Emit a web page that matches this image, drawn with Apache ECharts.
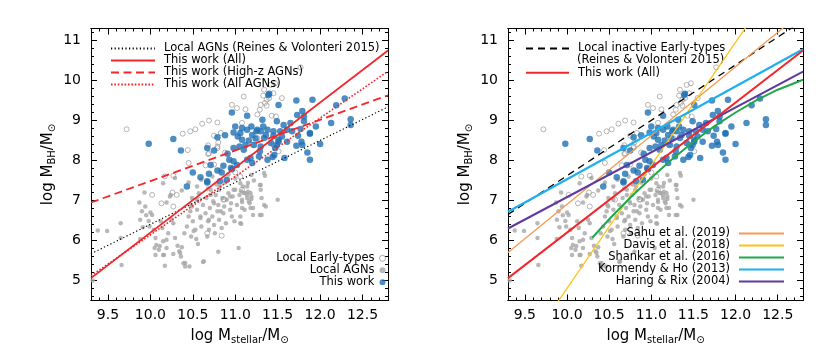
<!DOCTYPE html>
<html><head><meta charset="utf-8">
<script src="https://cdn.jsdelivr.net/npm/echarts@6/dist/echarts.min.js"></script>
<style>html,body{margin:0;padding:0;background:#fff}#c{width:830px;height:360px}</style>
</head><body><div id="c"></div>
<script>
// ---------- axis ticks ----------
const xRange = [9.3, 12.8];
const yRange = [4.5, 11.3];
const xMajorTicks = [9.5, 10.0, 10.5, 11.0, 11.5, 12.0, 12.5];
const xMinorTicks = [9.4,9.5,9.6,9.7,9.8,9.9,10.0,10.1,10.2,10.3,10.4,10.5,10.6,10.7,10.8,10.9,11.0,11.1,11.2,11.3,11.4,11.5,11.6,11.7,11.8,11.9,12.0,12.1,12.2,12.3,12.4,12.5,12.6,12.7];
const yMajorTicks = [5, 6, 7, 8, 9, 10, 11];
const yMinorTicks = [4.6,4.8,5.0,5.2,5.4,5.6,5.8,6.0,6.2,6.4,6.6,6.8,7.0,7.2,7.4,7.6,7.8,8.0,8.2,8.4,8.6,8.8,9.0,9.2,9.4,9.6,9.8,10.0,10.2,10.4,10.6,10.8,11.0,11.2];

// ---------- scatter data ----------
const localEarly = [[9.72,8.78],[10.17,7.60],[10.27,7.62],[10.38,8.67],[10.47,8.73],[10.53,8.78],[10.61,8.92],[10.69,9.00],[10.79,8.95],[10.75,8.62],[10.80,8.45],[10.83,8.69],[10.79,8.31],[10.68,8.38],[10.44,8.26],[10.69,8.18],[10.96,9.39],[11.02,9.31],[10.45,7.94],[10.79,8.35],[11.10,9.60],[11.30,9.39],[11.33,9.62],[11.37,9.37],[11.40,9.56],[11.45,9.68],[11.47,9.93],[11.42,9.89],[11.34,9.77],[11.55,9.56],[11.08,8.94],[11.26,8.56],[11.45,8.39],[11.51,8.23],[11.06,7.60],[10.02,7.14],[10.13,6.93],[10.27,6.85],[10.31,7.14],[10.57,7.02],[10.67,6.18],[10.84,6.12],[10.86,7.02],[11.08,7.27],[11.35,9.44],[11.43,9.12],[11.48,9.10],[11.37,9.52],[11.77,10.33],[10.26,7.20],[10.68,8.16],[10.65,7.88],[10.87,7.03],[11.12,9.28],[10.88,8.20],[11.20,8.40],[11.00,7.70],[10.75,7.90],[11.26,9.15],[11.29,9.27]];
const localAgn = [[9.38,6.25],[9.49,6.24],[9.65,6.43],[9.65,6.06],[9.66,5.39],[9.87,6.95],[9.88,6.52],[9.90,6.73],[9.94,6.85],[9.95,6.63],[9.98,6.49],[9.99,6.35],[10.02,6.64],[10.04,6.27],[10.06,6.06],[10.07,5.89],[10.10,5.77],[10.12,6.48],[10.14,6.31],[10.15,5.64],[10.17,5.37],[10.19,5.81],[10.19,6.02],[10.21,6.18],[10.24,7.14],[10.25,6.52],[10.27,6.43],[10.29,6.06],[10.32,5.87],[10.34,5.73],[10.36,5.60],[10.39,5.43],[10.41,5.35],[10.40,6.18],[10.43,6.35],[10.45,6.60],[10.47,6.73],[10.48,6.89],[10.49,7.06],[10.50,6.48],[10.53,6.27],[10.55,6.77],[10.57,7.18],[10.59,6.56],[10.60,6.35],[10.62,6.89],[10.63,5.48],[10.65,6.68],[10.66,7.06],[10.68,6.48],[10.69,6.27],[10.70,6.81],[10.71,7.27],[10.73,6.60],[10.74,6.98],[10.75,6.39],[10.76,6.18],[10.77,7.14],[10.79,6.73],[10.80,6.89],[10.81,6.52],[10.82,7.35],[10.84,6.31],[10.85,7.06],[10.86,6.68],[10.87,6.85],[10.89,6.43],[10.90,7.02],[10.92,7.18],[10.94,6.77],[10.95,6.93],[10.96,6.60],[10.97,7.10],[10.99,6.48],[11.00,7.27],[11.02,6.89],[11.04,5.81],[11.05,7.14],[11.06,6.43],[11.08,7.02],[11.09,7.35],[11.11,6.77],[11.12,7.18],[11.14,7.06],[11.15,7.22],[11.17,6.93],[11.19,7.10],[11.21,6.81],[11.30,7.39],[11.31,6.64],[11.34,6.89],[11.50,7.02],[9.91,6.33],[9.88,6.04],[10.05,5.81],[10.11,5.86],[10.06,5.64],[10.15,5.98],[10.16,5.64],[10.27,5.66],[10.35,5.69],[10.37,5.83],[10.41,5.44],[10.46,5.35],[10.48,6.10],[10.51,6.24],[10.54,6.04],[10.56,5.91],[10.62,5.46],[10.67,6.10],[10.80,5.72],[11.19,7.64],[11.34,7.69],[11.35,7.62],[11.29,7.39],[11.15,7.44],[11.07,7.23],[11.10,7.19],[11.14,7.14],[11.18,7.19],[11.16,6.98],[11.19,7.04],[11.08,6.96],[11.31,7.06],[11.36,6.85],[11.08,6.81],[11.18,6.81],[11.21,6.64],[11.29,6.64],[11.06,6.60],[11.07,6.42],[10.49,6.85],[10.55,7.02],[10.59,6.60],[10.69,6.52],[10.71,7.14],[10.75,6.93],[10.81,7.27],[10.83,6.73],[10.00,6.70],[10.19,6.95],[10.23,7.10],[10.73,7.60],[10.82,7.77],[10.78,7.40],[10.98,7.27],[11.14,7.35],[11.30,7.27],[11.06,7.43],[10.94,7.10],[10.29,7.56],[10.15,7.43],[9.93,7.20],[10.37,7.25],[10.60,7.52],[10.88,7.45],[11.00,7.55],[10.45,7.45],[10.55,7.35],[10.68,7.30],[11.22,7.50],[10.92,7.65],[9.32,5.00]];
const thisWork = [[9.98,8.42],[10.27,8.54],[10.36,8.25],[10.43,7.35],[10.67,7.45],[10.50,7.70],[10.59,7.58],[10.67,7.48],[10.69,7.67],[10.71,7.89],[10.79,7.75],[10.84,7.70],[10.86,7.87],[10.91,8.17],[10.93,8.02],[10.98,7.98],[11.02,7.89],[10.96,7.78],[10.67,8.31],[10.79,8.58],[10.98,8.31],[10.96,9.20],[11.00,8.85],[11.06,8.69],[11.14,9.12],[11.14,8.77],[11.08,8.52],[11.12,8.39],[11.20,8.64],[11.22,8.39],[11.26,8.77],[11.32,9.02],[11.34,8.56],[11.38,8.77],[11.40,9.67],[11.42,8.44],[11.45,8.62],[11.49,8.98],[11.51,9.39],[11.53,8.73],[11.49,8.39],[11.57,8.89],[11.61,8.77],[11.65,8.94],[11.72,9.50],[11.74,8.62],[11.77,8.79],[11.79,9.24],[11.81,9.10],[11.78,8.47],[11.72,8.37],[11.85,8.20],[11.88,8.02],[11.91,9.52],[11.88,8.67],[11.95,8.85],[12.00,8.41],[12.13,8.94],[12.19,9.38],[12.29,9.55],[12.36,9.03],[12.36,8.89],[11.58,8.06],[11.51,8.52],[11.14,8.02],[11.20,7.94],[11.30,8.35],[10.90,7.52],[10.82,7.48],[10.95,7.81],[11.28,8.10],[11.30,8.73],[10.98,8.70],[11.08,8.81],[11.38,8.02],[11.44,8.09],[11.46,8.14],[11.18,8.06],[11.29,8.23],[11.39,9.64],[11.73,9.14],[11.81,8.98],[11.88,8.69],[11.79,8.39],[11.67,8.73],[11.45,8.73],[11.25,8.73],[11.19,8.85],[11.33,8.85],[11.51,8.47],[11.61,8.47],[11.47,8.31],[10.88,8.63],[11.03,8.60],[11.10,8.27],[11.16,8.50],[10.75,8.25],[11.05,8.35],[11.24,8.55],[11.36,8.64],[11.55,8.60]];

// ---------- relations ----------
const lineX = [9.3, 12.8];
const rvAgnY = [5.67, 9.34];
const allY = [5.06, 10.75];
const highzY = [6.95, 9.63];
const allAgnY = [5.12, 10.23];
const rvEarlyY = [6.65, 11.50];
const sahuY = [5.70, 11.72];
const davisX = [9.7, 12.3];
const davisY = [3.88, 11.88];
const shankarX = [10.3, 10.5, 10.75, 11.0, 11.25, 11.5, 11.75, 12.0, 12.25, 12.5, 12.8];
const shankarY = [6.07, 6.53, 7.07, 7.57, 8.04, 8.47, 8.86, 9.20, 9.51, 9.77, 10.02];
const kormendyY = [6.72, 10.78];
const haringY = [6.30, 10.22];

const FONT = 'DejaVu Sans';
const pts = (xs, ys) => xs.map((x, i) => [x, ys[i]]);

function xAxes(g) {
  const base = (pos, ticks, len, main) => ({
    type: 'value', gridIndex: g, position: pos, min: xRange[0], max: xRange[1],
    axisLine: { show: true, onZero: false, lineStyle: { color: '#000', width: 1 } },
    axisTick: { show: true, inside: true, length: len, customValues: ticks, lineStyle: { color: '#000', width: 1 } },
    axisLabel: main ? { show: true, customValues: xMajorTicks, formatter: v => v.toFixed(1), margin: 8, color: '#000', fontSize: 14, fontFamily: FONT } : { show: false },
    splitLine: { show: false },
    name: main ? '{t|log M}{s|stellar}{t|/M}{s|\u2299}' : '',
    nameLocation: 'middle', nameGap: 27,
    nameTextStyle: { rich: {
      t: { fontSize: 15, fontFamily: FONT, color: '#000', lineHeight: 18 },
      s: { fontSize: 10, fontFamily: FONT, color: '#000', lineHeight: 10, verticalAlign: 'bottom' } } }
  });
  return [base('bottom', xMajorTicks, 6, true), base('bottom', xMinorTicks, 3, false),
          base('top', xMajorTicks, 6, false), base('top', xMinorTicks, 3, false)];
}
function yAxes(g) {
  const base = (pos, ticks, len, main) => ({
    type: 'value', gridIndex: g, position: pos, min: yRange[0], max: yRange[1],
    axisLine: { show: true, onZero: false, lineStyle: { color: '#000', width: 1 } },
    axisTick: { show: true, inside: true, length: len, customValues: ticks, lineStyle: { color: '#000', width: 1 } },
    axisLabel: main ? { show: true, customValues: yMajorTicks, margin: 10, color: '#000', fontSize: 14, fontFamily: FONT } : { show: false },
    splitLine: { show: false },
    name: main ? '{t|log M}{s|BH}{t|/M}{s|\u2299}' : '',
    nameLocation: 'middle', nameGap: 34, nameRotate: 90,
    nameTextStyle: { rich: {
      t: { fontSize: 15, fontFamily: FONT, color: '#000', lineHeight: 18 },
      s: { fontSize: 10, fontFamily: FONT, color: '#000', lineHeight: 10, verticalAlign: 'bottom' } } }
  });
  return [base('left', yMajorTicks, 6, true), base('left', yMinorTicks, 3, false),
          base('right', yMajorTicks, 6, false), base('right', yMinorTicks, 3, false)];
}

function scatters(ax) {
  return [
    { name: 'Local AGNs', type: 'scatter', xAxisIndex: ax, yAxisIndex: ax, data: localAgn, symbol: 'circle', symbolSize: 4.5,
      itemStyle: { color: '#a6a6a6' }, z: 2 },
    { name: 'Local Early-types', type: 'scatter', xAxisIndex: ax, yAxisIndex: ax, data: localEarly, symbol: 'circle', symbolSize: 5,
      itemStyle: { color: 'rgba(255,255,255,0)', borderColor: '#999', borderWidth: 0.9 }, z: 2 },
    { name: 'This work', type: 'scatter', xAxisIndex: ax, yAxisIndex: ax, data: thisWork, symbol: 'circle', symbolSize: 6.5,
      itemStyle: { color: '#1f70b5' }, z: 3 }
  ];
}
function line(name, ax, data, color, width, type) {
  return { name, type: 'line', xAxisIndex: ax, yAxisIndex: ax, data, symbol: 'none', showSymbol: false, clip: true,
    lineStyle: { color, width, type }, itemStyle: { color }, z: 5 };
}

const series = [
  ...scatters(0),
  line('Local AGNs (Reines & Volonteri 2015)', 0, pts(lineX, rvAgnY), '#000', 1.2, [1.2, 2.4]),
  line('This work (All)', 0, pts(lineX, allY), '#f2262b', 1.8, 'solid'),
  line('This work (High-z AGNs)', 0, pts(lineX, highzY), '#f2262b', 1.8, [8, 4.5]),
  line('This work (All AGNs)', 0, pts(lineX, allAgnY), '#f2262b', 1.6, [1.6, 1.8]),
  ...scatters(4),
  line('Local inactive Early-types', 4, pts(lineX, rvEarlyY), '#000', 1.3, [7, 5]),
  line('Sahu et al. (2019)', 4, pts(lineX, sahuY), '#f59a55', 1.3, 'solid'),
  line('Davis et al. (2018)', 4, pts(davisX, davisY), '#fcc419', 1.3, 'solid'),
  line('Shankar et al. (2016)', 4, pts(shankarX, shankarY), '#1ea84a', 2, 'solid'),
  line('Kormendy & Ho (2013)', 4, pts(lineX, kormendyY), '#1eb0ee', 2.2, 'solid'),
  line('Haring & Rix (2004)', 4, pts(lineX, haringY), '#5e3aa0', 2, 'solid'),
  line('This work (All)', 4, pts(lineX, allY), '#f2262b', 2, 'solid')
];

const legendText = (padL, padR, lh) => ({ fontSize: 11.5, fontFamily: FONT, color: '#000', lineHeight: lh, padding: [0, padR, 0, padL] });
const lineLegend = (extra) => Object.assign({ orient: 'vertical', padding: 0, itemGap: 0, itemWidth: 44, itemHeight: 4,
  selectedMode: false, itemStyle: { opacity: 0 } }, extra);

const option = {
  animation: false,
  backgroundColor: '#fff',
  grid: [
    { left: 91, top: 28.5, width: 297, height: 272 },
    { left: 508, top: 28.5, width: 295, height: 272 }
  ],
  xAxis: [...xAxes(0), ...xAxes(1)],
  yAxis: [...yAxes(0), ...yAxes(1)],
  legend: [
    lineLegend({ left: 110, top: 42.4, data: ['Local AGNs (Reines & Volonteri 2015)', 'This work (All)', 'This work (High-z AGNs)', 'This work (All AGNs)'],
      textStyle: legendText(4, 0, 11.7) }),
    { orient: 'vertical', align: 'right', right: 444, top: 252.3, padding: 0, itemGap: 0, itemWidth: 6, itemHeight: 6, selectedMode: false,
      data: ['Local Early-types', 'Local AGNs', 'This work'], itemStyle: { borderWidth: 1 },
      textStyle: legendText(0, 0, 11) },
    lineLegend({ left: 525, top: 42.45, itemWidth: 43, data: ['Local inactive Early-types'], textStyle: legendText(4, 0, 11.7) }),
    lineLegend({ left: 525, top: 66.85, itemWidth: 43, data: ['This work (All)'], textStyle: legendText(4, 0, 11.7) }),
    lineLegend({ align: 'right', right: 45, top: 227.4, itemWidth: 45,
      data: ['Sahu et al. (2019)', 'Davis et al. (2018)', 'Shankar et al. (2016)', 'Kormendy & Ho (2013)', 'Haring & Rix (2004)'],
      textStyle: legendText(0, 4, 11.85) })
  ],
  graphic: [
    { type: 'text', x: 577, y: 60, silent: true,
      style: { text: '(Reines & Volonteri 2015)', fontSize: 11.5, fontFamily: FONT, fill: '#000', verticalAlign: 'middle' } }
  ],
  series
};

const chart = echarts.init(document.getElementById('c'), null, { renderer: 'canvas' });
chart.setOption(option);
</script>
</body></html>
